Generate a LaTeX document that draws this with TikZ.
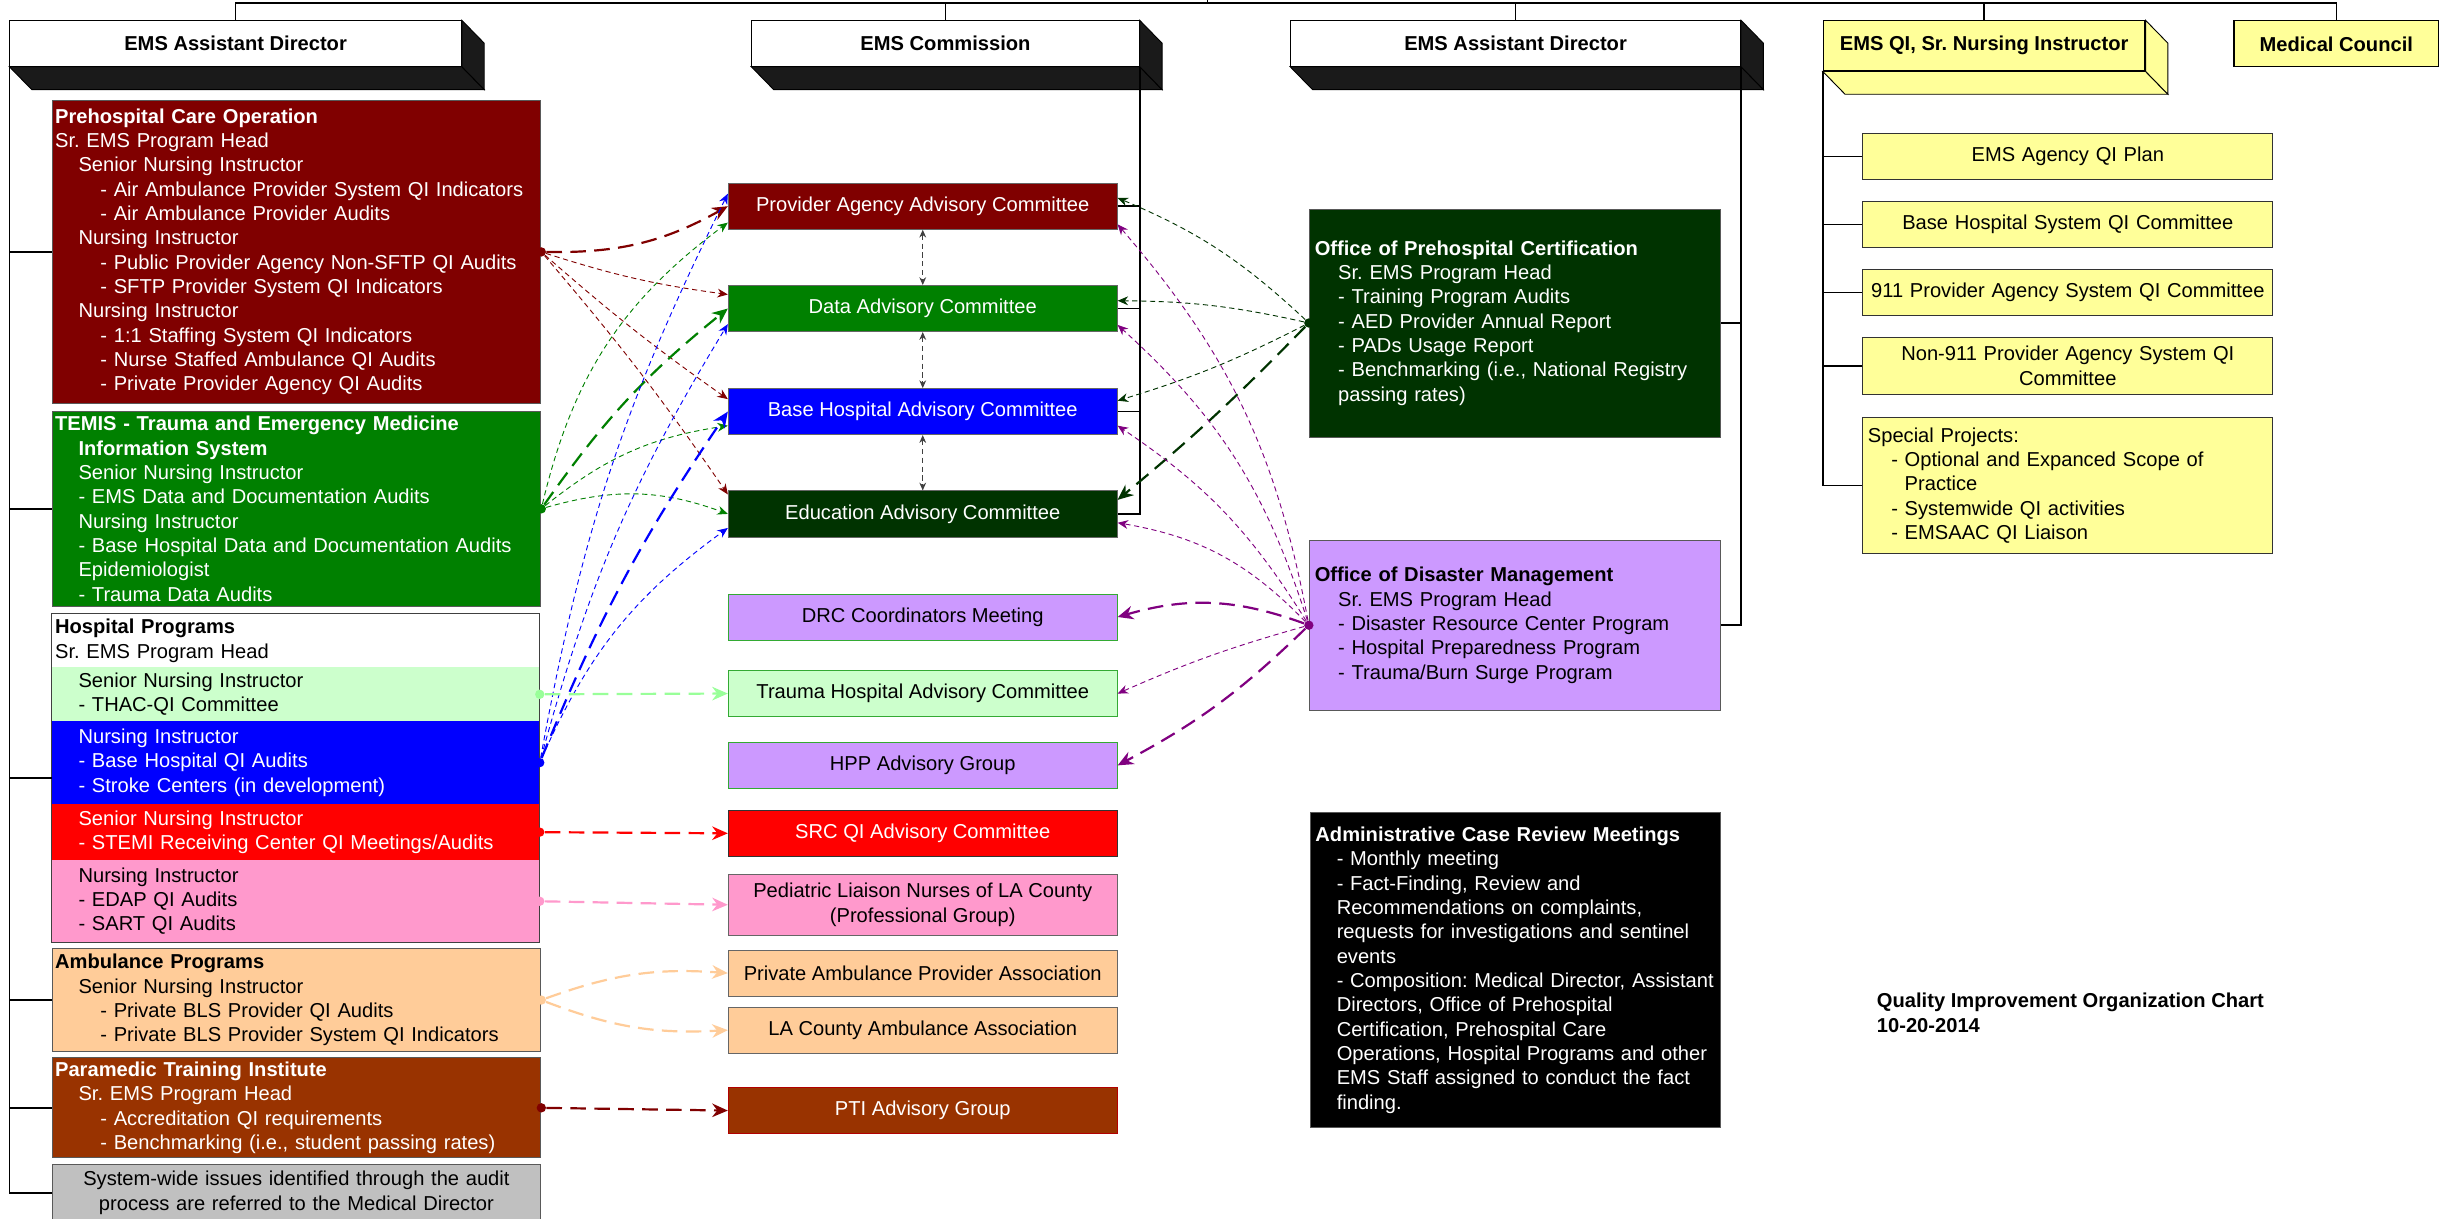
\documentclass[tikz,border=0pt]{standalone}
\usepackage{fontspec}
\setmainfont{Liberation Sans}
\usetikzlibrary{arrows.meta,positioning,calc}
\frenchspacing

\definecolor{prehosred}{HTML}{800000}
\definecolor{temisgreen}{HTML}{008000}
\definecolor{thacgreen}{HTML}{CCFFCC}
\definecolor{thaclink}{HTML}{99FF99}
\definecolor{hospblue}{HTML}{0000FF}
\definecolor{stemired}{HTML}{FF0000}
\definecolor{pedspink}{HTML}{FF99CC}
\definecolor{ambtan}{HTML}{FFCC99}
\definecolor{ptibrown}{HTML}{993300}
\definecolor{sysgray}{HTML}{C0C0C0}
\definecolor{certgreen}{HTML}{003300}
\definecolor{disasterlilac}{HTML}{CC99FF}
\definecolor{disasterpurple}{HTML}{800080}
\definecolor{qiyellow}{HTML}{FFFF99}
\definecolor{depthgray}{HTML}{1A1A1A}
\definecolor{lilacedge}{HTML}{33AA33}

\newcommand{\orgfont}{\fontsize{11pt}{13.3pt}\selectfont}
\newcommand{\lvone}{\hspace*{4.5mm}}
\newcommand{\lvtwo}{\hspace*{8.7mm}}
% bottom and right faces of a raised header box
\newcommand{\drawdepth}[2]{%
  \filldraw[fill=#2, draw=black, line width=0.5pt] (#1.south west) -- (#1.south east) -- ++(4.3mm,-4.4mm) -- ([shift={(4.3mm,-4.4mm)}]#1.south west) -- cycle;
  \filldraw[fill=#2, draw=black, line width=0.5pt] (#1.north east) -- ++(4.3mm,-4.4mm) -- ([shift={(4.3mm,-4.4mm)}]#1.south east) -- (#1.south east) -- cycle;
}

\tikzset{
  every node/.style={font=\orgfont},
  headbox/.style={draw=black, line width=0.6pt, anchor=north west, inner sep=0pt, align=center, font=\orgfont\bfseries},
  unitbox/.style n args={3}{fill=#1, text=#2, draw=#3, line width=0.5pt, anchor=north west, inner ysep=0pt},
  leftbox/.style 2 args={unitbox={#1}{#2}{black!65}, inner xsep=0.6mm, text width=92.7mm, align=left},
  bandbox/.style 2 args={unitbox={#1}{#2}{none}, inner xsep=0.6mm, text width=92.4mm, align=left},
  advbox/.style n args={3}{unitbox={#1}{#2}{#3}, inner xsep=0pt, minimum width=74.7mm, minimum height=8.85mm, align=center},
  officebox/.style 2 args={unitbox={#1}{#2}{black!65}, inner xsep=1.05mm, text width=76.95mm, align=left},
  qibox/.style={unitbox={qiyellow}{black}{black!80}, inner xsep=1mm, text width=76.8mm, align=center},
  treeline/.style={draw=black, line width=0.9pt},
  thinlink/.style={dash pattern=on 1mm off 0.7mm, line width=0.5pt, -{Stealth[length=2mm,width=1.7mm]}},
  thicklink/.style={dash pattern=on 3mm off 1.6mm, line width=1.2pt, -{Stealth[length=3mm,width=2.6mm]}},
  stacklink/.style={black!75, dash pattern=on 1mm off 0.7mm, line width=0.5pt, {Stealth[length=1.5mm,width=1.3mm]}-{Stealth[length=1.5mm,width=1.3mm]}},
  srcdot/.style={circle, fill, inner sep=0pt, minimum size=1.8mm},
}

\begin{document}
\begin{tikzpicture}[x=0.3mm, y=-0.3mm]
  \useasboundingbox (0,0) rectangle (1568,780);
  \fill[white] (0,0) rectangle (1568,780);

  % header boxes
  \node[headbox, fill=white, minimum width=86.7mm, minimum height=8.7mm] (adLeft) at (6,13) {EMS Assistant Director};
  \node[headbox, fill=white, minimum width=74.4mm, minimum height=8.7mm] (emsComm) at (481,13) {EMS Commission};
  \node[headbox, fill=white, minimum width=86.4mm, minimum height=8.7mm] (adMid) at (826,13) {EMS Assistant Director};
  \node[headbox, fill=qiyellow, minimum width=61.8mm, minimum height=9.6mm] (qiLead) at (1167,13) {EMS QI, Sr. Nursing Instructor};
  \node[headbox, fill=qiyellow, minimum width=39.3mm, minimum height=8.85mm] (medCouncil) at (1430,13) {Medical Council};
  \drawdepth{adLeft}{depthgray}
  \drawdepth{emsComm}{depthgray}
  \drawdepth{adMid}{depthgray}
  \drawdepth{qiLead}{qiyellow}

  % left column
  \node[leftbox={prehosred}{white}, minimum height=58.2mm] (preOp) at (33,64) {\textbf{Prehospital Care Operation}\\
    Sr. EMS Program Head\\
    \lvone Senior Nursing Instructor\\
    \lvtwo - Air Ambulance Provider System QI Indicators\\
    \lvtwo - Air Ambulance Provider Audits\\
    \lvone Nursing Instructor\\
    \lvtwo - Public Provider Agency Non-SFTP QI Audits\\
    \lvtwo - SFTP Provider System QI Indicators\\
    \lvone Nursing Instructor\\
    \lvtwo - 1:1 Staffing System QI Indicators\\
    \lvtwo - Nurse Staffed Ambulance QI Audits\\
    \lvtwo - Private Provider Agency QI Audits};
  \node[leftbox={temisgreen}{white}, minimum height=37.5mm] (temis) at (33,263) {\textbf{TEMIS - Trauma and Emergency Medicine}\\
    \lvone\textbf{Information System}\\
    \lvone Senior Nursing Instructor\\
    \lvone - EMS Data and Documentation Audits\\
    \lvone Nursing Instructor\\
    \lvone - Base Hospital Data and Documentation Audits\\
    \lvone Epidemiologist\\
    \lvone - Trauma Data Audits};
  \node[bandbox={white}{black}, minimum height=10.2mm] (hpHead) at (33,393) {\textbf{Hospital Programs}\\ Sr. EMS Program Head};
  \node[bandbox={thacgreen}{black}, minimum height=10.35mm] (hpThac) at (33,427) {\lvone Senior Nursing Instructor\\ \lvone - THAC-QI Committee};
  \node[bandbox={hospblue}{white}, minimum height=15.9mm] (hpBase) at (33,461.5) {\lvone Nursing Instructor\\ \lvone - Base Hospital QI Audits\\ \lvone - Stroke Centers (in development)};
  \node[bandbox={stemired}{white}, minimum height=10.8mm] (hpStemi) at (33,514.5) {\lvone Senior Nursing Instructor\\ \lvone - STEMI Receiving Center QI Meetings/Audits};
  \node[bandbox={pedspink}{black}, minimum height=15.75mm] (hpPeds) at (33,550.5) {\lvone Nursing Instructor\\ \lvone - EDAP QI Audits\\ \lvone - SART QI Audits};
  \draw[black!75, line width=0.6pt] (hpHead.north west) rectangle (hpPeds.south east);
  \node[leftbox={ambtan}{black}, minimum height=19.8mm] (ambProg) at (33,607) {\textbf{Ambulance Programs}\\
    \lvone Senior Nursing Instructor\\
    \lvtwo - Private BLS Provider QI Audits\\
    \lvtwo - Private BLS Provider System QI Indicators};
  \node[leftbox={ptibrown}{white}, minimum height=19.2mm] (pti) at (33,677) {\textbf{Paramedic Training Institute}\\
    \lvone Sr. EMS Program Head\\
    \lvtwo - Accreditation QI requirements\\
    \lvtwo - Benchmarking (i.e., student passing rates)};
  \node[leftbox={sysgray}{black}, minimum height=10.8mm, align=center] (sysWide) at (33,745.5) {System-wide issues identified through the audit\\ process are referred to the Medical Director};

  % committees
  \node[advbox={prehosred}{white}{black!60}] (provAdv) at (466,117) {Provider Agency Advisory Committee};
  \node[advbox={temisgreen}{white}{black!60}] (dataAdv) at (466,182.5) {Data Advisory Committee};
  \node[advbox={hospblue}{white}{black!60}] (baseAdv) at (466,248.5) {Base Hospital Advisory Committee};
  \node[advbox={certgreen}{white}{black!60}] (eduAdv) at (466,314) {Education Advisory Committee};
  \node[advbox={disasterlilac}{black}{lilacedge}] (drcMeet) at (466,380) {DRC Coordinators Meeting};
  \node[advbox={thacgreen}{black}{lilacedge}] (traumaAdv) at (466,429) {Trauma Hospital Advisory Committee};
  \node[advbox={disasterlilac}{black}{lilacedge}] (hppGroup) at (466,475) {HPP Advisory Group};
  \node[advbox={stemired}{white}{black!80}] (srcAdv) at (466,518.5) {SRC QI Advisory Committee};
  \node[advbox={pedspink}{black}{black!60}, minimum height=11.7mm] (pedsNurses) at (466,559.5) {Pediatric Liaison Nurses of LA County\\ (Professional Group)};
  \node[advbox={ambtan}{black}{black!60}] (privAmb) at (466,608) {Private Ambulance Provider Association};
  \node[advbox={ambtan}{black}{black!60}] (laAmb) at (466,644.5) {LA County Ambulance Association};
  \node[advbox={ptibrown}{white}{red!70!black}] (ptiGroup) at (466,696) {PTI Advisory Group};

  % offices
  \node[officebox={certgreen}{white}, minimum height=43.8mm] (opc) at (838,133.5) {\textbf{Office of Prehospital Certification}\\
    \lvone Sr. EMS Program Head\\
    \lvone - Training Program Audits\\
    \lvone - AED Provider Annual Report\\
    \lvone - PADs Usage Report\\
    \lvone - Benchmarking (i.e., National Registry\\
    \lvone passing rates)};
  \node[officebox={disasterlilac}{black}, minimum height=32.7mm] (odm) at (838,345.5) {\textbf{Office of Disaster Management}\\
    \lvone Sr. EMS Program Head\\
    \lvone - Disaster Resource Center Program\\
    \lvone - Hospital Preparedness Program\\
    \lvone - Trauma/Burn Surge Program};
  \node[officebox={black}{white}, inner xsep=0.625mm, text width=77.5mm, minimum height=60.45mm] (acrm) at (838.5,520) {\hspace*{0.4mm}\textbf{Administrative Case Review Meetings}\\
    \lvone - Monthly meeting\\
    \lvone - Fact-Finding, Review and\\
    \lvone Recommendations on complaints,\\
    \lvone requests for investigations and sentinel\\
    \lvone events\\
    \lvone - Composition: Medical Director, Assistant\\
    \lvone Directors, Office of Prehospital\\
    \lvone Certification, Prehospital Care\\
    \lvone Operations, Hospital Programs and other\\
    \lvone EMS Staff assigned to conduct the fact\\
    \lvone finding.};
  \node[anchor=west, inner sep=0pt, align=left, font=\orgfont\bfseries] (chartTitle) at (1201.5,648.5) {Quality Improvement Organization Chart\\ 10-20-2014};

  % QI column
  \node[qibox, minimum height=8.76mm] (qiPlan) at (1192.3,85.4) {EMS Agency QI Plan};
  \node[qibox, minimum height=8.7mm] (bhSysQi) at (1192.3,129) {Base Hospital System QI Committee};
  \node[qibox, minimum height=8.7mm] (prov911) at (1192.3,172.5) {911 Provider Agency System QI Committee};
  \node[qibox, minimum height=10.8mm] (non911) at (1192.3,216) {Non-911 Provider Agency System QI\\ Committee};
  \node[qibox, minimum height=26.1mm, align=left] (special) at (1192.3,267) {Special Projects:\\
    \lvone - Optional and Expanced Scope of\\
    \lvone \phantom{- }Practice\\
    \lvone - Systemwide QI activities\\
    \lvone - EMSAAC QI Liaison};

  % reporting lines
  \coordinate (bus) at (0,2);
  \coordinate (upLink) at (773,0);
  \draw[treeline] (adLeft.north) |- (bus -| medCouncil.north) -- (medCouncil.north);
  \foreach \n in {emsComm, adMid, qiLead}
    \draw[treeline] (\n.north) -- (\n.north |- bus);
  \draw[treeline] (upLink) -- (upLink |- bus);

  \coordinate (hpMid) at ($(hpHead.north west)!0.5!(hpPeds.south west)$);
  \draw[treeline] (adLeft.south west) |- (sysWide.west);
  \foreach \n in {preOp, temis, hpMid, ambProg, pti}
    \draw[treeline] (\n.west) -- (\n.west -| adLeft.south west);

  \draw[treeline] (emsComm.south east) |- (eduAdv.east);
  \foreach \n in {provAdv, dataAdv, baseAdv}
    \draw[treeline] (\n.east) -- (\n.east -| emsComm.south east);

  \draw[treeline] (adMid.south east) |- (odm.east);
  \draw[treeline] (opc.east) -- (opc.east -| adMid.south east);

  \draw[treeline] (qiLead.south west) |- (special.west);
  \foreach \n in {qiPlan, bhSysQi, prov911, non911}
    \draw[treeline] (\n.west) -- (\n.west -| qiLead.south west);

  % committee chain
  \draw[stacklink] (provAdv.south) -- (dataAdv.north);
  \draw[stacklink] (dataAdv.south) -- (baseAdv.north);
  \draw[stacklink] (baseAdv.south) -- (eduAdv.north);

  % source dots
  \node[srcdot, prehosred] (preDot) at (preOp.east) {};
  \node[srcdot, temisgreen] (temisDot) at (temis.east) {};
  \node[srcdot, thaclink] (thacDot) at (hpThac.east) {};
  \node[srcdot, hospblue] (baseDot) at (hpBase.east) {};
  \node[srcdot, stemired] (stemiDot) at (hpStemi.east) {};
  \node[srcdot, pedspink] (pedsDot) at (hpPeds.east) {};
  \node[srcdot, ambtan] (ambDot) at (ambProg.east) {};
  \node[srcdot, prehosred] (ptiDot) at (pti.east) {};
  \node[srcdot, certgreen] (opcDot) at (opc.west) {};
  \node[srcdot, disasterpurple] (odmDot) at (odm.west) {};

  % advisory links
  \draw[thicklink, prehosred] (preDot) to[bend right=15] (provAdv.west);
  \draw[thinlink, prehosred] (preDot) to[bend right=5] ([yshift=2.7mm]dataAdv.west);
  \draw[thinlink, prehosred] (preDot) to[bend right=3] ([yshift=2.4mm]baseAdv.west);
  \draw[thinlink, prehosred] (preDot) to[bend left=3] ([yshift=3.75mm]eduAdv.west);

  \draw[thinlink, temisgreen] (temisDot) to[bend left=20] ([yshift=-3.15mm]provAdv.west);
  \draw[thicklink, temisgreen] (temisDot) to[bend left=8] (dataAdv.west);
  \draw[thinlink, temisgreen] (temisDot) to[bend left=15] ([yshift=-2.7mm]baseAdv.west);
  \draw[thinlink, temisgreen] (temisDot) to[bend left=18] (eduAdv.west);

  \draw[thinlink, hospblue] (baseDot) to[bend left=8] ([yshift=2.4mm]provAdv.west);
  \draw[thinlink, hospblue] (baseDot) to[bend left=8] ([yshift=-3mm]dataAdv.west);
  \draw[thicklink, hospblue] (baseDot) to[bend left=6] (baseAdv.west);
  \draw[thinlink, hospblue] (baseDot) to[bend left=15] ([yshift=-2.7mm]eduAdv.west);

  \draw[thicklink, thaclink] (thacDot) -- (traumaAdv.west);
  \draw[thicklink, stemired] (stemiDot) -- (srcAdv.west);
  \draw[thicklink, pedspink] (pedsDot) -- (pedsNurses.west);
  \draw[thicklink, ambtan] (ambDot) to[bend left=12] (privAmb.west);
  \draw[thicklink, ambtan] (ambDot) to[bend right=12] (laAmb.west);
  \draw[thicklink, prehosred] (ptiDot) -- (ptiGroup.west);

  \draw[thinlink, certgreen] (opcDot) to[bend right=10] ([yshift=1.6mm]provAdv.east);
  \draw[thinlink, certgreen] (opcDot) to[bend right=6] ([yshift=1.5mm]dataAdv.east);
  \draw[thinlink, certgreen] (opcDot) to[bend left=5] ([yshift=2.1mm]baseAdv.east);
  \draw[thicklink, certgreen] (opcDot) to[bend left=3] ([yshift=2.7mm]eduAdv.east);

  \draw[thinlink, disasterpurple] (odmDot) to[bend right=15] ([yshift=-3.5mm]provAdv.east);
  \draw[thinlink, disasterpurple] (odmDot) to[bend right=15] ([yshift=-3.15mm]dataAdv.east);
  \draw[thinlink, disasterpurple] (odmDot) to[bend right=12] ([yshift=-2.7mm]baseAdv.east);
  \draw[thinlink, disasterpurple] (odmDot) to[bend right=18] ([yshift=-1.7mm]eduAdv.east);
  \draw[thicklink, disasterpurple] (odmDot) to[bend right=18] (drcMeet.east);
  \draw[thinlink, disasterpurple] (odmDot) to[bend right=4] (traumaAdv.east);
  \draw[thicklink, disasterpurple] (odmDot) to[bend left=8] (hppGroup.east);
\end{tikzpicture}
\end{document}
